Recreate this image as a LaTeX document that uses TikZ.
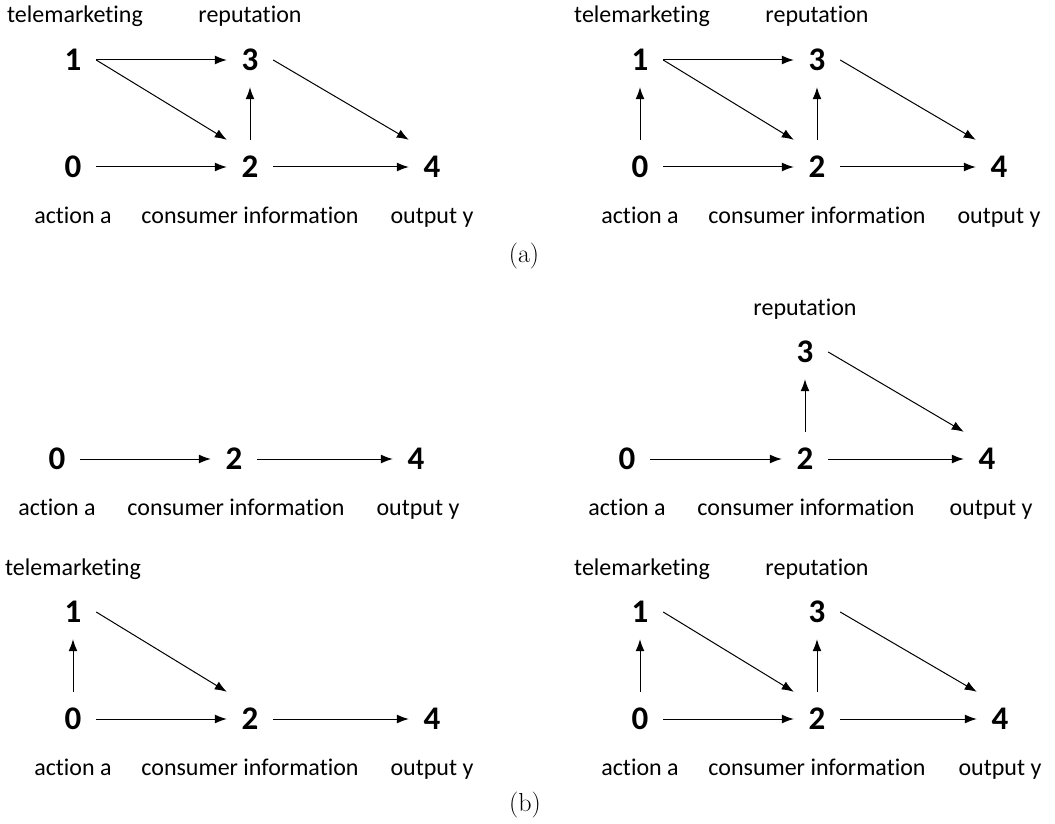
\documentclass[tikz,border=0pt]{standalone}
\usepackage{fontspec}
\usepackage{tikz}
\usetikzlibrary{arrows.meta}
\newfontfamily\lblfont[Ligatures=NoCommon]{Carlito}

\begin{document}
\begin{tikzpicture}[x=1pt, y=-1pt,
    num/.style={font=\lblfont\fontsize{33}{36}\selectfont\bfseries, inner sep=0pt, minimum width=46pt, minimum height=54pt},
    lbl/.style={font=\lblfont\fontsize{24}{28}\selectfont, anchor=base, inner sep=0pt},
    captxt/.style={font=\fontsize{26}{28}\selectfont, inner sep=0pt},
    arr/.style={-{Latex[length=12pt, width=9pt]}, line width=1pt}]
    \useasboundingbox (0, 0) rectangle (1055, 824);

    % (a) left - no link from action to telemarketing
    \begin{scope}[shift={(73, 167)}]
        \node[num] (A0) at (0, 0) {0};
        \node[num] (A1) at (0, -107) {1};
        \node[num] (A2) at (177, 0) {2};
        \node[num] (A3) at (177, -107) {3};
        \node[num] (A4) at (359, 0) {4};
        \node[lbl] (At1) at (2, -144) {telemarketing};
        \node[lbl] (At3) at (177, -144) {reputation};
        \node[lbl] (Ab0) at (0, 56) {action a};
        \node[lbl] (Ab2) at (177, 56) {consumer information};
        \node[lbl] (Ab4) at (359, 56) {output y};
        \draw[arr] (A1.east) -- (A3.west);
        \draw[arr] (A1.east) -- (A2.north west);
        \draw[arr] (A2.north) -- (A3.south);
        \draw[arr] (A0.east) -- (A2.west);
        \draw[arr] (A2.east) -- (A4.west);
        \draw[arr] (A3.east) -- (A4.north west);
    \end{scope}

    % (a) right - full graph
    \begin{scope}[shift={(640, 167)}]
        \node[num] (B0) at (0, 0) {0};
        \node[num] (B1) at (0, -107) {1};
        \node[num] (B2) at (177, 0) {2};
        \node[num] (B3) at (177, -107) {3};
        \node[num] (B4) at (359, 0) {4};
        \node[lbl] (Bt1) at (2, -144) {telemarketing};
        \node[lbl] (Bt3) at (177, -144) {reputation};
        \node[lbl] (Bb0) at (0, 56) {action a};
        \node[lbl] (Bb2) at (177, 56) {consumer information};
        \node[lbl] (Bb4) at (359, 56) {output y};
        \draw[arr] (B0.north) -- (B1.south);
        \draw[arr] (B1.east) -- (B3.west);
        \draw[arr] (B1.east) -- (B2.north west);
        \draw[arr] (B2.north) -- (B3.south);
        \draw[arr] (B0.east) -- (B2.west);
        \draw[arr] (B2.east) -- (B4.west);
        \draw[arr] (B3.east) -- (B4.north west);
    \end{scope}

    % (b) top left - chain only
    \begin{scope}[shift={(57, 459)}]
        \node[num] (C0) at (0, 0) {0};
        \node[num] (C2) at (177, 0) {2};
        \node[num] (C4) at (359, 0) {4};
        \node[lbl] (Cb0) at (0, 56) {action a};
        \node[lbl] (Cb2) at (179, 56) {consumer information};
        \node[lbl] (Cb4) at (361, 56) {output y};
        \draw[arr] (C0.east) -- (C2.west);
        \draw[arr] (C2.east) -- (C4.west);
    \end{scope}

    % (b) top right - with reputation
    \begin{scope}[shift={(627, 459)}]
        \node[num] (D0) at (0, 0) {0};
        \node[num] (D2) at (178, 0) {2};
        \node[num] (D3) at (178, -107) {3};
        \node[num] (D4) at (360, 0) {4};
        \node[lbl] (Dt3) at (178, -144) {reputation};
        \node[lbl] (Db0) at (0, 56) {action a};
        \node[lbl] (Db2) at (179, 56) {consumer information};
        \node[lbl] (Db4) at (364, 56) {output y};
        \draw[arr] (D2.north) -- (D3.south);
        \draw[arr] (D0.east) -- (D2.west);
        \draw[arr] (D2.east) -- (D4.west);
        \draw[arr] (D3.east) -- (D4.north west);
    \end{scope}

    % (b) bottom left - with telemarketing
    \begin{scope}[shift={(73, 719)}]
        \node[num] (E0) at (0, 0) {0};
        \node[num] (E1) at (0, -107) {1};
        \node[num] (E2) at (177, 0) {2};
        \node[num] (E4) at (359, 0) {4};
        \node[lbl] (Et1) at (0, -144) {telemarketing};
        \node[lbl] (Eb0) at (0, 56) {action a};
        \node[lbl] (Eb2) at (177, 56) {consumer information};
        \node[lbl] (Eb4) at (359, 56) {output y};
        \draw[arr] (E0.north) -- (E1.south);
        \draw[arr] (E1.east) -- (E2.north west);
        \draw[arr] (E0.east) -- (E2.west);
        \draw[arr] (E2.east) -- (E4.west);
    \end{scope}

    % (b) bottom right - both channels
    \begin{scope}[shift={(640, 719)}]
        \node[num] (F0) at (0, 0) {0};
        \node[num] (F1) at (0, -107) {1};
        \node[num] (F2) at (177, 0) {2};
        \node[num] (F3) at (177, -107) {3};
        \node[num] (F4) at (360, 0) {4};
        \node[lbl] (Ft1) at (2, -144) {telemarketing};
        \node[lbl] (Ft3) at (177, -144) {reputation};
        \node[lbl] (Fb0) at (0, 56) {action a};
        \node[lbl] (Fb2) at (177, 56) {consumer information};
        \node[lbl] (Fb4) at (360, 56) {output y};
        \draw[arr] (F0.north) -- (F1.south);
        \draw[arr] (F1.east) -- (F2.north west);
        \draw[arr] (F2.north) -- (F3.south);
        \draw[arr] (F3.east) -- (F4.north west);
        \draw[arr] (F0.east) -- (F2.west);
        \draw[arr] (F2.east) -- (F4.west);
    \end{scope}

    % captions
    \node[captxt] (capa) at (524, 256) {(a)};
    \node[captxt] (capb) at (525, 805) {(b)};
\end{tikzpicture}
\end{document}
